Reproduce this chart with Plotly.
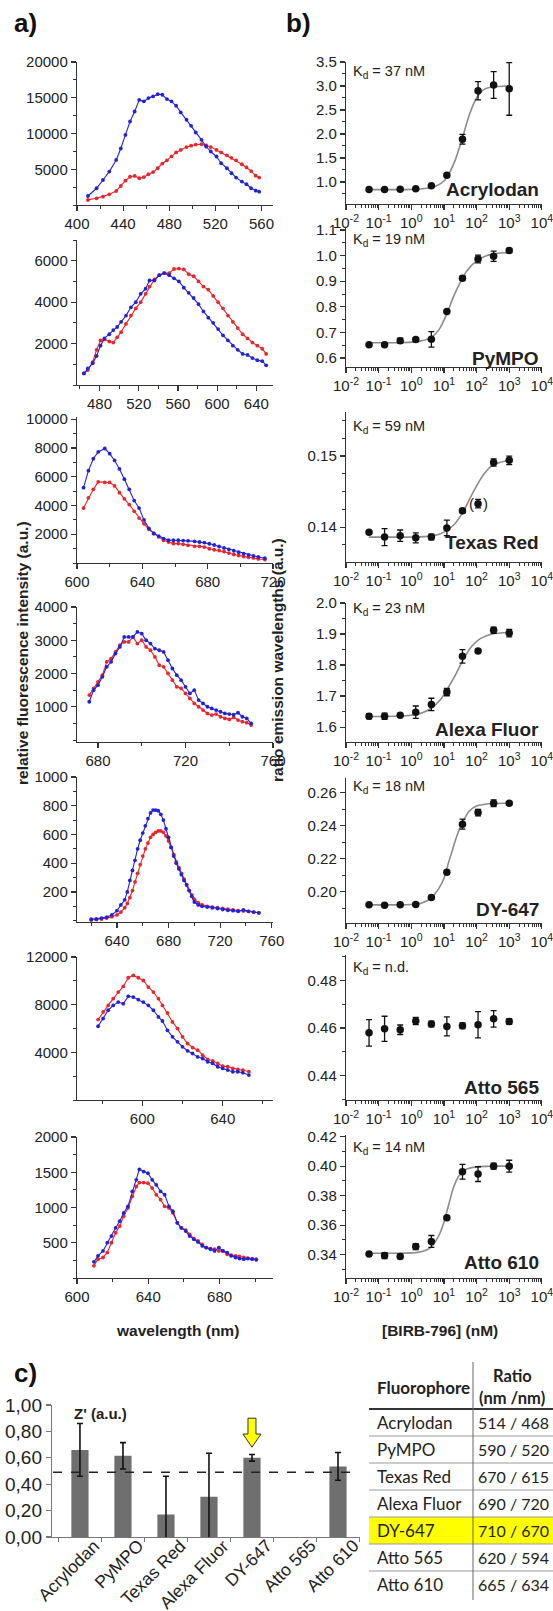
import math
import plotly.graph_objects as go

W, H = 553, 1611
def fx(px): return px / W
def fy(py): return 1 - py / H

# ---------------- a) emission spectra ----------------
acr_wl = [409.5, 417, 422.5, 428, 434, 438, 442, 446, 450, 454, 458, 462, 466, 470, 474, 478, 482, 486, 490, 495, 499, 503, 508, 512, 516, 521, 525, 530, 534, 538, 543, 547, 551, 555, 558]
acr_blue = [1260, 2340, 3500, 4670, 6300, 7900, 9800, 11680, 13080, 14700, 14500, 14950, 15190, 15500, 15420, 14810, 14490, 13880, 12950, 11920, 11070, 10140, 9110, 8180, 7480, 6780, 5840, 5140, 4440, 3830, 3270, 2900, 2340, 2010, 1870]
acr_red = [700, 935, 1170, 1500, 1960, 2660, 3400, 3950, 4070, 3740, 3900, 4300, 4600, 5140, 5800, 6250, 6800, 7350, 7700, 8100, 8300, 8450, 8500, 8350, 8100, 7700, 7350, 6950, 6600, 6250, 5700, 5250, 4750, 4100, 3830]

pym_wl = [464, 468, 473, 477, 481, 485, 490, 494, 498, 502, 507, 512, 517, 522, 527, 531, 536, 541, 546, 551, 556, 561, 566, 571, 576, 581, 586, 591, 596, 601, 606, 611, 616, 621, 626, 631, 636, 641, 646, 650]
pym_blue = [560, 800, 1050, 1400, 1900, 2250, 2450, 2650, 2800, 3050, 3350, 3750, 4000, 4400, 4650, 5050, 5050, 5300, 5400, 5300, 5150, 5000, 4700, 4450, 4200, 3900, 3550, 3250, 3000, 2700, 2400, 2150, 1900, 1700, 1500, 1450, 1300, 1200, 1150, 950]
pym_red = [560, 720, 1100, 1700, 2150, 2200, 2100, 2050, 2300, 2550, 2950, 3350, 3700, 4000, 4400, 4750, 5100, 5300, 5400, 5400, 5600, 5620, 5580, 5350, 5250, 5000, 4750, 4600, 4300, 4000, 3700, 3350, 3050, 2750, 2450, 2250, 2050, 1900, 1750, 1500]

txr_wl = [604, 607, 610, 613, 617, 620, 623, 626, 629, 632, 635, 638, 641, 644, 647, 650, 653, 656, 659, 662, 665, 668, 672, 675, 678, 681, 684, 687, 690, 693, 696, 699, 702, 705, 708, 711, 715]
txr_blue = [5240, 6420, 7250, 7720, 7960, 7600, 7130, 6540, 5830, 5120, 4340, 3820, 3000, 2410, 2050, 1870, 1700, 1580, 1580, 1580, 1560, 1540, 1500, 1460, 1420, 1340, 1250, 1150, 1050, 950, 850, 750, 650, 570, 500, 420, 330]
txr_red = [3820, 4530, 5120, 5640, 5600, 5600, 5360, 4890, 4460, 4060, 3590, 3120, 2720, 2340, 2050, 1820, 1580, 1460, 1350, 1350, 1300, 1230, 1160, 1160, 1110, 990, 920, 870, 800, 690, 590, 520, 450, 400, 350, 280, 240]

alx_wl = [676, 678, 680, 682, 684, 686, 688, 690, 692, 694, 696, 698, 700, 702, 704, 706, 708, 710, 712, 714, 716, 718, 720, 722, 724, 726, 728, 730, 732, 734, 736, 738, 740, 742, 744, 746, 748, 750]
alx_blue = [1150, 1500, 1650, 1900, 2200, 2350, 2600, 2800, 3100, 3100, 3100, 3250, 3200, 3000, 2900, 2750, 2700, 2650, 2400, 2150, 1950, 1800, 1600, 1400, 1500, 1200, 1100, 1000, 950, 900, 850, 800, 780, 760, 820, 700, 650, 500]
alx_red = [1350, 1550, 1750, 1950, 2350, 2450, 2650, 2850, 2950, 2950, 3100, 2900, 3000, 2800, 2700, 2500, 2250, 2200, 2000, 1800, 1600, 1550, 1400, 1250, 1100, 1000, 900, 800, 750, 780, 700, 650, 620, 680, 600, 550, 520, 450]

dy_wl = [620, 624, 628, 632, 636, 640, 643, 646, 648, 650, 652, 654, 656, 658, 660, 662, 664, 666, 668, 670, 672, 674, 676, 678, 680, 682, 684, 686, 688, 690, 692, 694, 696, 698, 700, 703, 706, 710, 714, 718, 722, 726, 730, 734, 738, 742, 746, 750]
dy_blue = [10, 12, 18, 25, 40, 70, 110, 145, 200, 280, 350, 420, 500, 560, 610, 660, 710, 750, 770, 770, 765, 740, 700, 640, 580, 510, 450, 400, 360, 320, 280, 250, 210, 170, 130, 110, 100, 95, 90, 85, 78, 72, 70, 65, 75, 65, 60, 55]
dy_red = [5, 8, 12, 18, 28, 40, 60, 90, 120, 160, 210, 270, 330, 390, 450, 500, 540, 580, 600, 615, 625, 625, 615, 590, 555, 510, 460, 410, 370, 330, 290, 250, 210, 180, 150, 125, 110, 100, 95, 90, 85, 80, 75, 70, 68, 65, 60, 55]

a565_wl = [578, 580.5, 583, 585.5, 588, 590.5, 593, 595.5, 598, 600.5, 603, 605.5, 608, 610, 612.5, 615, 617.5, 620, 622.5, 625, 627.5, 630, 632.5, 635, 637.5, 640, 642.5, 645, 647.5, 650, 653]
a565_blue = [6190, 6830, 7530, 7940, 8220, 8080, 8700, 8640, 8420, 8220, 7940, 7530, 6970, 6630, 5850, 5300, 4880, 4460, 4130, 3900, 3620, 3480, 3210, 3070, 2790, 2650, 2510, 2370, 2370, 2290, 2090]
a565_red = [6745, 7390, 7940, 8500, 9060, 9530, 10260, 10450, 10260, 10030, 9480, 9060, 8500, 7940, 7300, 6550, 5990, 5300, 4740, 4400, 4180, 3760, 3400, 3290, 3070, 2840, 2790, 2650, 2560, 2510, 2370]

a610_wl = [609.5, 611.8, 614.6, 617, 619.3, 621.7, 624, 626.2, 628.6, 631, 633.3, 635, 637.4, 639.8, 642.2, 644.5, 646.9, 649.2, 651.6, 653.8, 656.3, 658.5, 661, 663.2, 665.6, 667.9, 670.3, 672.5, 674.9, 677.2, 679.6, 681.9, 684.3, 686.5, 689, 691.2, 693.6, 695.9, 698.3, 700.6]
a610_blue = [230, 314, 384, 501, 595, 712, 806, 923, 1017, 1228, 1392, 1542, 1509, 1486, 1392, 1321, 1228, 1181, 1017, 947, 783, 712, 665, 595, 548, 511, 455, 431, 408, 384, 431, 384, 361, 314, 291, 276, 267, 276, 267, 258]
a610_red = [173, 267, 291, 361, 501, 642, 736, 876, 994, 1158, 1298, 1354, 1354, 1345, 1275, 1181, 1111, 1017, 994, 923, 783, 712, 680, 619, 558, 525, 478, 431, 417, 408, 384, 384, 337, 323, 314, 305, 291, 281, 276, 267]

# ---------------- b) titrations ----------------
conc = [0.0508, 0.152, 0.457, 1.37, 4.12, 12.3, 37, 111, 333, 1000]
names = ["Acrylodan", "PyMPO", "Texas Red", "Alexa Fluor", "DY-647", "Atto 565", "Atto 610"]
kd_text = ["37 nM", "19 nM", "59 nM", "23 nM", "18 nM", "n.d.", "14 nM"]

acr_ratio = [0.84, 0.84, 0.85, 0.86, 0.92, 1.14, 1.89, 2.90, 3.02, 2.94]
acr_err = [0, 0, 0, 0, 0.02, 0.03, 0.10, 0.19, 0.28, 0.55]
acr_fit_x = [0.05, 0.3, 1, 3, 6, 10, 15, 22, 37, 60, 100, 170, 300, 1000]
acr_fit_y = [0.84, 0.84, 0.845, 0.87, 0.92, 1.02, 1.2, 1.45, 1.92, 2.4, 2.75, 2.93, 2.98, 3.0]

pym_ratio = [0.652, 0.652, 0.668, 0.672, 0.673, 0.782, 0.912, 0.987, 0.998, 1.02]
pym_err = [0.004, 0.004, 0.01, 0.008, 0.03, 0.005, 0.008, 0.015, 0.02, 0.008]
pym_fit_x = [0.05, 0.3, 1, 2, 4, 7, 12, 19, 30, 50, 100, 200, 400, 1000]
pym_fit_y = [0.66, 0.66, 0.662, 0.667, 0.68, 0.71, 0.77, 0.835, 0.89, 0.94, 0.98, 1.0, 1.008, 1.012]

txr_ratio = [0.1393, 0.1386, 0.1388, 0.1385, 0.1386, 0.1399, 0.1423, 0.1433, 0.1491, 0.1494]
txr_err = [0.0002, 0.0012, 0.0008, 0.0007, 0.0004, 0.0011, 0.0003, 0.0006, 0.0005, 0.0006]
txr_fit_x = [0.05, 0.3, 1, 3, 6, 10, 20, 37, 59, 100, 170, 300, 1000]
txr_fit_y = [0.1386, 0.1386, 0.1386, 0.1387, 0.1389, 0.1393, 0.1403, 0.142, 0.1438, 0.1458, 0.1475, 0.1487, 0.1494]

alx_ratio = [1.635, 1.635, 1.638, 1.648, 1.673, 1.713, 1.828, 1.845, 1.912, 1.903]
alx_err = [0.008, 0.01, 0.005, 0.02, 0.02, 0.012, 0.022, 0.005, 0.01, 0.012]
alx_fit_x = [0.05, 0.3, 1, 2, 4, 8, 14, 23, 40, 70, 130, 300, 1000]
alx_fit_y = [1.634, 1.635, 1.638, 1.645, 1.66, 1.69, 1.73, 1.77, 1.82, 1.86, 1.885, 1.9, 1.905]

dy_ratio = [0.192, 0.1918, 0.192, 0.1922, 0.1965, 0.2118, 0.241, 0.248, 0.2537, 0.2537]
dy_err = [0.0005, 0.0005, 0.0005, 0.0005, 0.0006, 0.0007, 0.003, 0.002, 0.002, 0.001]
dy_fit_x = [0.05, 0.3, 1, 2, 4, 7, 10, 14, 18, 25, 35, 60, 100, 300, 1000]
dy_fit_y = [0.192, 0.192, 0.1922, 0.193, 0.196, 0.202, 0.208, 0.218, 0.225, 0.234, 0.241, 0.249, 0.252, 0.2535, 0.2537]

a565_ratio = [0.458, 0.4597, 0.4593, 0.463, 0.4617, 0.4607, 0.461, 0.4614, 0.4639, 0.4628]
a565_err = [0.0056, 0.0053, 0.002, 0.0015, 0.0012, 0.004, 0.0012, 0.0055, 0.0035, 0.0012]

a610_ratio = [0.3405, 0.3394, 0.3388, 0.3455, 0.349, 0.365, 0.3962, 0.3946, 0.4, 0.4]
a610_err = [0.001, 0.002, 0.0015, 0.002, 0.004, 0.001, 0.005, 0.005, 0.002, 0.004]
a610_fit_x = [0.05, 0.3, 1, 2, 4, 7, 10, 14, 20, 30, 50, 100, 300, 1000]
a610_fit_y = [0.341, 0.341, 0.3412, 0.342, 0.345, 0.353, 0.362, 0.374, 0.386, 0.394, 0.398, 0.3995, 0.4, 0.4]

# ---------------- c) Z' factors and table ----------------
z_cats = ["Acrylodan", "PyMPO", "Texas Red", "Alexa Fluor", "DY-647", "Atto 565", "Atto 610"]
z_vals = [0.66, 0.615, 0.17, 0.305, 0.60, None, 0.535]
z_errs = [0.20, 0.10, 0.29, 0.33, 0.025, 0, 0.105]
z_threshold = 0.49
z_ticks = [0.0, 0.2, 0.4, 0.6, 0.8, 1.0]
z_ticktext = ["0,00", "0,20", "0,40", "0,60", "0,80", "1,00"]
best_dye = "DY-647"

tab_fluor = ["Acrylodan", "PyMPO", "Texas Red", "Alexa Fluor", "DY-647", "Atto 565", "Atto 610"]
tab_ratio = ["514 / 468", "590 / 520", "670 / 615", "690 / 720", "710 / 670", "620 / 594", "665 / 634"]

# ---------------- styling / layout ----------------
BLUE = "#2222d8"
RED = "#e8262b"
INK = "#222222"
FONT = "Liberation Sans, Arial, sans-serif"
TFONT = "Lato, Open Sans, sans-serif"

fig = go.Figure()
layout = dict(width=W, height=H, margin=dict(l=0, r=0, t=0, b=0, pad=0), autosize=False,
              paper_bgcolor="white", plot_bgcolor="white", showlegend=False,
              font=dict(family=FONT, color=INK))
annotations = []
shapes = []

def ax_base(size=15):
    return dict(showline=True, linecolor="#333", linewidth=1.2, ticks="outside", ticklen=5,
                tickwidth=1.2, tickcolor="#333", showgrid=False, zeroline=False, automargin=False,
                tickfont=dict(family=FONT, size=size, color=INK), fixedrange=True)

def akey(n, a):
    return f"{a}axis" if n == 1 else f"{a}axis{n}"

def tref(n, a):
    return a if n == 1 else f"{a}{n}"

left_x = (77, 273)
right_x = (346, 542)
left_rows = [(62, 205), (240, 385), (417, 563), (607, 742), (777, 922), (957, 1100), (1137, 1278)]
right_rows = [(62, 204), (228, 367), (412, 562), (603, 742), (778, 923), (955, 1100), (1135, 1278)]

spectra = [
    (acr_wl, acr_blue, acr_red, [400, 570], [0, 20000], [400, 440, 480, 520, 560], [5000, 10000, 15000, 20000], 2500),
    (pym_wl, pym_blue, pym_red, [457, 657], [0, 7000], [480, 520, 560, 600, 640], [2000, 4000, 6000], 1000),
    (txr_wl, txr_blue, txr_red, [600, 720], [0, 10150], [600, 640, 680, 720], [2000, 4000, 6000, 8000, 10000], 1000),
    (alx_wl, alx_blue, alx_red, [670.4, 760], [-60, 4000], [680, 720, 760], [1000, 2000, 3000, 4000], 500),
    (dy_wl, dy_blue, dy_red, [609, 761], [-9, 1000], [640, 680, 720, 760], [200, 400, 600, 800, 1000], 100),
    (a565_wl, a565_blue, a565_red, [567.5, 665], [0, 12000], [600, 640], [4000, 8000, 12000], 2000),
    (a610_wl, a610_blue, a610_red, [600, 710], [0, 2000], [600, 640, 680], [500, 1000, 1500, 2000], 250),
]

for i, (wl, blue, red, xr, yr, xt, yt, yminor) in enumerate(spectra):
    n = i + 1
    top, bot = left_rows[i]
    xa = ax_base(15)
    xa.update(domain=[fx(left_x[0]), fx(left_x[1])], range=xr, tickmode="array", tickvals=xt,
              ticktext=[str(v) for v in xt], anchor=tref(n, "y"), ticklabeloverflow="allow",
              minor=dict(tick0=xt[0], dtick=20, ticks="outside", ticklen=3, tickwidth=1, tickcolor="#333"))
    ya = ax_base(15)
    ya.update(domain=[fy(bot), fy(top)], range=yr, tickmode="array", tickvals=yt,
              ticktext=[str(v) for v in yt], anchor=tref(n, "x"),
              minor=dict(tick0=0, dtick=yminor, ticks="outside", ticklen=3, tickwidth=1, tickcolor="#333"))
    layout[akey(n, "x")] = xa
    layout[akey(n, "y")] = ya
    for vals, col in ((red, RED), (blue, BLUE)):
        fig.add_trace(go.Scatter(x=wl, y=vals, mode="lines+markers",
                                 line=dict(color=col, width=1.1),
                                 marker=dict(size=3.8, color=col),
                                 xaxis=tref(n, "x"), yaxis=tref(n, "y"), hoverinfo="skip"))

titr = [
    (acr_ratio, acr_err, acr_fit_x, acr_fit_y, [0.54, 3.5], [1.0, 1.5, 2.0, 2.5, 3.0, 3.5], ".1f", 0.25),
    (pym_ratio, pym_err, pym_fit_x, pym_fit_y, [0.565, 1.108], [0.6, 0.7, 0.8, 0.9, 1.0, 1.1], ".1f", 0.05),
    (txr_ratio, txr_err, txr_fit_x, txr_fit_y, [0.1351, 0.1562], [0.14, 0.15], ".2f", 0.0025),
    (alx_ratio, alx_err, alx_fit_x, alx_fit_y, [1.552, 2.0], [1.6, 1.7, 1.8, 1.9, 2.0], ".1f", 0.05),
    (dy_ratio, dy_err, dy_fit_x, dy_fit_y, [0.181, 0.269], [0.20, 0.22, 0.24, 0.26], ".2f", 0.01),
    (a565_ratio, a565_err, None, None, [0.4297, 0.4908], [0.44, 0.46, 0.48], ".2f", 0.01),
    (a610_ratio, a610_err, a610_fit_x, a610_fit_y, [0.3242, 0.4211], [0.34, 0.36, 0.38, 0.40, 0.42], ".2f", 0.01),
]
kd_y = [72, 240, 427, 609, 787, 968, 1148]
name_y = [190, 359, 542, 729, 910, 1087, 1262]

log_major = [10.0 ** k for k in range(-2, 5)]
log_text = [f"10<sup>{k}</sup>" for k in range(-2, 5)]
log_minor = [m * 10.0 ** k for k in range(-2, 4) for m in range(2, 10)]

for i, (ratio, err, fxs, fys, yr, yt, fmt, yminor) in enumerate(titr):
    n = 8 + i
    top, bot = right_rows[i]
    xa = ax_base(15)
    xa.update(type="log", domain=[fx(right_x[0]), fx(right_x[1])], range=[-2, 4.004],
              tickmode="array", tickvals=log_major, ticktext=log_text, anchor=tref(n, "y"),
              ticklabeloverflow="allow",
              minor=dict(tickmode="array", tickvals=log_minor, ticks="outside", ticklen=3,
                         tickwidth=1, tickcolor="#333"))
    ya = ax_base(15)
    ya.update(domain=[fy(bot), fy(top)], range=yr, tickmode="array", tickvals=yt,
              ticktext=[format(v, fmt) for v in yt], anchor=tref(n, "x"),
              minor=dict(tick0=yt[0], dtick=yminor, ticks="outside", ticklen=3, tickwidth=1,
                         tickcolor="#333"))
    layout[akey(n, "x")] = xa
    layout[akey(n, "y")] = ya
    if fxs is not None:
        fig.add_trace(go.Scatter(x=fxs, y=fys, mode="lines", line=dict(color="#8c8c8c", width=1.6, shape="spline", smoothing=0.8),
                                 xaxis=tref(n, "x"), yaxis=tref(n, "y"), hoverinfo="skip"))
    fig.add_trace(go.Scatter(x=conc, y=ratio, mode="markers",
                             marker=dict(size=7.5, color="#111"),
                             error_y=dict(type="data", array=err, color="#111", thickness=1.3, width=3),
                             xaxis=tref(n, "x"), yaxis=tref(n, "y"), hoverinfo="skip"))
    annotations.append(dict(xref="paper", yref="paper", x=fx(351), y=fy(kd_y[i]), xanchor="left", yanchor="middle",
                            text=f"K<sub>d</sub> = {kd_text[i]}", showarrow=False,
                            font=dict(family=FONT, size=14.5, color=INK)))
    annotations.append(dict(xref="paper", yref="paper", x=fx(541), y=fy(name_y[i]), xanchor="right", yanchor="middle",
                            text=f"<b>{names[i]}</b>", showarrow=False,
                            font=dict(family=FONT, size=19, color=INK)))

# parentheses around the excluded Texas Red point
for txt, sh in (("(", -7), (")", 7)):
    annotations.append(dict(xref="x10", yref="y10", x=math.log10(conc[7]), y=txr_ratio[7], text=txt,
                            showarrow=False, xshift=sh, font=dict(family=FONT, size=15, color=INK)))

# ---------------- bar chart ----------------
bar_left, bar_right = 52, 359.5
bx_range = [-0.65, 6.5]
xa = ax_base(17.5)
xa.update(domain=[fx(bar_left), fx(bar_right)], type="category", range=bx_range,
          tickson="boundaries", ticklen=4, anchor="y15", linecolor="#777", tickcolor="#777",
          showticklabels=False, categoryorder="array", categoryarray=z_cats)
ya = ax_base(19)
ya.update(domain=[fy(1537), fy(1405)], range=[0, 1.0], tickmode="array", tickvals=z_ticks,
          ticktext=z_ticktext, anchor="x15", linecolor="#777", tickcolor="#777",
          tickfont=dict(family=FONT, size=19, color=INK))
layout["xaxis15"] = xa
layout["yaxis15"] = ya
fig.add_trace(go.Bar(x=z_cats, y=z_vals, width=0.4, marker=dict(color="#6f6f6f", line=dict(width=0)),
                     error_y=dict(type="data", array=z_errs, color="#111", thickness=1.6, width=3),
                     xaxis="x15", yaxis="y15", hoverinfo="skip"))
# rotated category labels, anchored at each category position
for c in z_cats:
    annotations.append(dict(xref="x15", yref="paper", x=c, y=fy(1533), xshift=27,
                            xanchor="right", yanchor="top", textangle=-45, text=c, showarrow=False,
                            font=dict(family=FONT, size=17.5, color=INK)))
shapes.append(dict(type="line", xref="paper", yref="y15", x0=fx(bar_left + 1), x1=fx(bar_right - 2),
                   y0=z_threshold, y1=z_threshold, line=dict(color="#222", width=1.5, dash="dash")))

# yellow arrow above best dye (x from category index mapped through the axis scale)
idx = z_cats.index(best_dye)
px_per_cat = (bar_right - bar_left) / (bx_range[1] - bx_range[0])
cx = bar_left + (idx - bx_range[0]) * px_per_cat
y_top = z_vals[idx] + 0.30
y_head = z_vals[idx] + 0.18
y_tip = z_vals[idx] + 0.08
path = (f"M {fx(cx-4)},{y_top} L {fx(cx+4)},{y_top} L {fx(cx+4)},{y_head} L {fx(cx+9)},{y_head} "
        f"L {fx(cx)},{y_tip} L {fx(cx-9)},{y_head} L {fx(cx-4)},{y_head} Z")
shapes.append(dict(type="path", xref="paper", yref="y15", path=path, fillcolor="#ffff00",
                   line=dict(color="#333", width=1)))
annotations.append(dict(xref="paper", yref="paper", x=fx(72), y=fy(1413), xanchor="left", yanchor="middle",
                        text="<b>Z' (a.u.)</b>", showarrow=False, font=dict(family=FONT, size=15, color=INK)))

# ---------------- table ----------------
t_left, t_right, t_div = 369, 553, 473
head_line = 1409
row_h = 27.0
hl = tab_fluor.index(best_dye)
shapes.append(dict(type="rect", xref="paper", yref="paper", x0=fx(t_left), x1=fx(t_right),
                   y0=fy(head_line + (hl + 1) * row_h), y1=fy(head_line + hl * row_h),
                   fillcolor="#ffff00", line=dict(width=0), layer="below"))
shapes.append(dict(type="line", xref="paper", yref="paper", x0=fx(t_left), x1=fx(t_right),
                   y0=fy(head_line), y1=fy(head_line), line=dict(color="#333", width=2)))
for r in range(1, len(tab_fluor)):
    yy = head_line + r * row_h
    shapes.append(dict(type="line", xref="paper", yref="paper", x0=fx(t_left), x1=fx(t_right),
                       y0=fy(yy), y1=fy(yy), line=dict(color="#9a9a9a", width=1)))
shapes.append(dict(type="line", xref="paper", yref="paper", x0=fx(t_div), x1=fx(t_div),
                   y0=fy(1362), y1=fy(1600), line=dict(color="#666", width=1)))
annotations.append(dict(xref="paper", yref="paper", x=fx(375), y=fy(1387), xanchor="left", yanchor="middle",
                        text="<b>Fluorophore</b>", showarrow=False, font=dict(family=TFONT, size=17, color=INK)))
annotations.append(dict(xref="paper", yref="paper", x=fx(512), y=fy(1376), xanchor="center", yanchor="middle",
                        text="<b>Ratio</b>", showarrow=False, font=dict(family=TFONT, size=16.5, color=INK)))
annotations.append(dict(xref="paper", yref="paper", x=fx(512), y=fy(1398), xanchor="center", yanchor="middle",
                        text="<b>(nm /nm)</b>", showarrow=False, font=dict(family=TFONT, size=16.5, color=INK)))
for r, (f, q) in enumerate(zip(tab_fluor, tab_ratio)):
    yc = head_line + (r + 0.5) * row_h
    annotations.append(dict(xref="paper", yref="paper", x=fx(375), y=fy(yc), xanchor="left", yanchor="middle",
                            text=f, showarrow=False, font=dict(family=TFONT, size=17, color=INK)))
    annotations.append(dict(xref="paper", yref="paper", x=fx(476), y=fy(yc), xanchor="left", yanchor="middle",
                            text=q, showarrow=False, font=dict(family=TFONT, size=16, color=INK)))

# ---------------- titles / panel letters ----------------
annotations += [
    dict(xref="paper", yref="paper", x=fx(12), y=fy(23), xanchor="left", yanchor="middle", text="<b>a)</b>",
         showarrow=False, font=dict(family=FONT, size=26, color="#111")),
    dict(xref="paper", yref="paper", x=fx(284), y=fy(23), xanchor="left", yanchor="middle", text="<b>b)</b>",
         showarrow=False, font=dict(family=FONT, size=26, color="#111")),
    dict(xref="paper", yref="paper", x=fx(12), y=fy(1373), xanchor="left", yanchor="middle", text="<b>c)</b>",
         showarrow=False, font=dict(family=FONT, size=26, color="#111")),
    dict(xref="paper", yref="paper", x=fx(22), y=fy(653), xanchor="center", yanchor="middle", textangle=-90,
         text="<b>relative fluorescence intensity (a.u.)</b>", showarrow=False, font=dict(family=FONT, size=15.5, color=INK)),
    dict(xref="paper", yref="paper", x=fx(277), y=fy(660), xanchor="center", yanchor="middle", textangle=-90,
         text="<b>ratio emission wavelengths (a.u.)</b>", showarrow=False, font=dict(family=FONT, size=15.5, color=INK)),
    dict(xref="paper", yref="paper", x=fx(177), y=fy(1330), xanchor="center", yanchor="middle",
         text="<b>wavelength (nm)</b>", showarrow=False, font=dict(family=FONT, size=15.5, color=INK)),
    dict(xref="paper", yref="paper", x=fx(440), y=fy(1330), xanchor="center", yanchor="middle",
         text="<b>[BIRB-796] (nM)</b>", showarrow=False, font=dict(family=FONT, size=15.5, color=INK)),
]

layout["annotations"] = annotations
layout["shapes"] = shapes
fig.update_layout(**layout)
fig.write_html("out.html", config={"displayModeBar": False, "staticPlot": True},
               post_script="document.body.style.margin='0';")
